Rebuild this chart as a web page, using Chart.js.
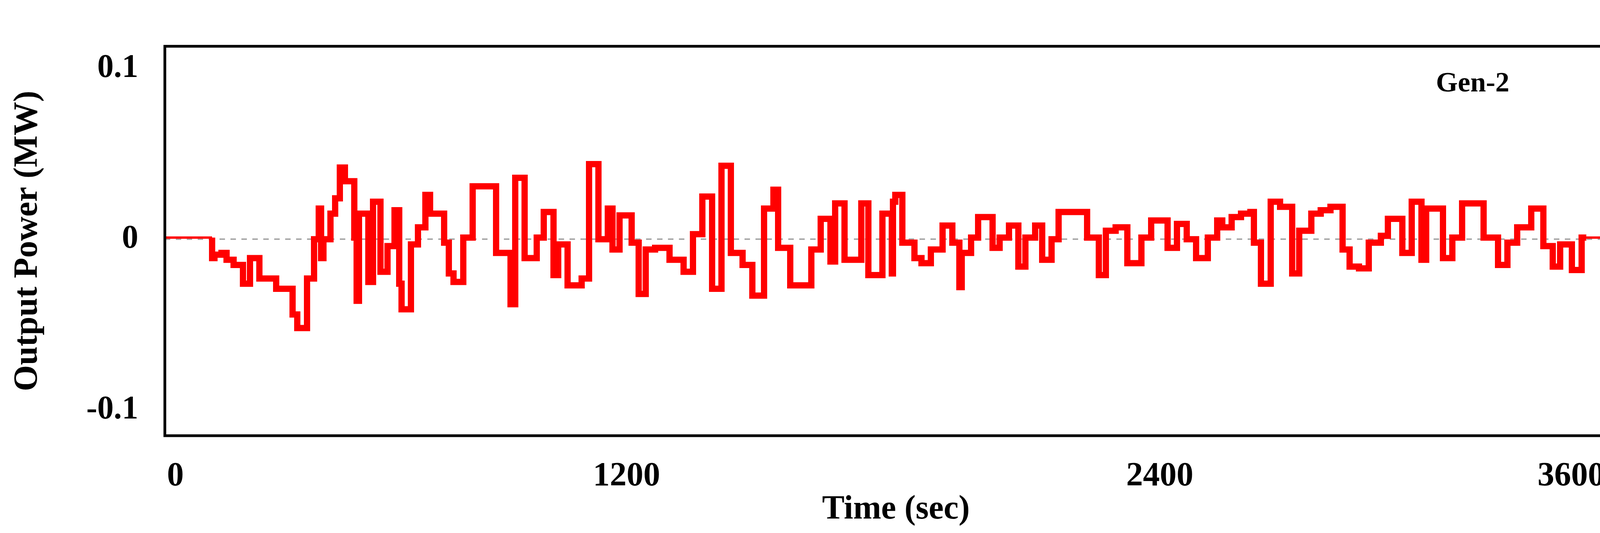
<!DOCTYPE html>
<html><head><meta charset="utf-8">
<script src="https://cdn.jsdelivr.net/npm/chart.js@4"></script>
<style>html,body{margin:0;padding:0;background:#fff;overflow:hidden}#wrap{position:relative;width:4213px;height:1364px}</style>
</head><body><div id="wrap"><canvas id="c"></canvas></div>
<script>
const times = [0,121,127,145,158,176,200,218,242,285,327,339,364,382,394,400,406,424,436,448,461,485,491,497,521,533,552,570,588,600,606,630,648,667,679,715,727,739,764,788,848,885,897,921,
952,970,995,1007,1031,1067,1086,1110,1134,1146,1164,1195,1213,1231,1255,1292,1328,1352,1376,1401,1425,1449,1479,1504,1534,1558,1570,1601,1655,1679,1704,1716,1740,1783,1801,1837,1861,
1864,1870,1888,1919,1937,1961,1991,2016,2034,2040,2064,2082,2119,2137,2161,2185,2203,2228,2246,2270,2288,2361,2391,2409,2434,2464,2500,2525,2567,2591,2616,2640,2670,2694,2707,2731,2755,2779,
2788,2806,2831,2855,2886,2904,2935,2959,2984,3015,3033,3057,3082,3113,3131,3168,3192,3217,3229,3272,3296,3321,3376,3413,3437,3462,3498,3529,3553,3572,3602,3627,3639,3743];
const powerMW = [0,0.001,-0.011,-0.009,-0.008,-0.012,-0.015,-0.026,-0.011,-0.023,-0.029,-0.044,-0.052,-0.023,0.0,0.018,-0.011,0.0,0.015,0.024,0.042,0.034,0.001,-0.036,0.015,-0.025,0.022,-0.019,-0.004,0.017,-0.026,-0.041,-0.003,0.007,0.026,0.015,-0.002,-0.020,-0.025,0.001,0.031,-0.008,-0.038,0.036,
-0.011,0.001,0.016,-0.021,-0.003,-0.027,-0.023,0.044,0.0,0.018,-0.006,0.014,-0.002,-0.032,-0.006,-0.005,-0.012,-0.019,0.003,0.025,-0.029,0.043,-0.008,-0.015,-0.033,0.018,0.029,-0.005,-0.027,-0.006,0.012,-0.013,0.021,-0.012,0.021,-0.021,0.015,
-0.020,0.022,0.026,-0.002,-0.011,-0.014,-0.006,0.008,-0.002,-0.028,-0.008,0.001,0.013,-0.005,0.001,0.008,-0.016,0.001,0.008,-0.012,0.0,0.016,0.001,-0.021,0.005,0.007,-0.014,0.001,0.011,-0.005,0.009,0.0,-0.011,0.001,0.011,0.007,0.013,0.015,
0.016,-0.002,-0.026,0.022,0.019,-0.020,0.005,0.015,0.017,0.019,-0.006,-0.016,-0.017,-0.002,0.002,0.012,-0.008,0.022,-0.012,0.018,-0.011,0.001,0.021,0.001,-0.015,-0.002,0.007,0.018,-0.004,-0.016,-0.003,-0.018,0.001,0.001];
const xTickPositions = [27,1182,2547,3600];
const xTickLabels = ['0','1200','2400','3600'];
const yTickValues = [-0.1,0,0.1];
const yTickLabels = ['-0.1','0','0.1'];

const serif = 'Liberation Serif, Times New Roman, serif';
const boxPlugin = {id:'box', afterDraw(ch){const a=ch.chartArea,c=ch.ctx;c.save();c.strokeStyle='#000';c.lineWidth=7;c.strokeRect(a.left,a.top,a.right-a.left,a.bottom-a.top);
c.fillStyle='#000';c.font='bold 72px '+serif;c.textAlign='center';c.textBaseline='middle';c.fillText('Gen-2',a.right-395,a.top+97);c.restore();}};
const n = times.length;
new Chart(document.getElementById('c'),{
 type:'line',
 data:{datasets:[{data:times.map((t,i)=>({x:t,y:powerMW[i]})),borderColor:'#ff0000',borderWidth:16,pointRadius:0,stepped:'after',borderJoinStyle:'miter',
   segment:{borderWidth:ctx=>(ctx.p0DataIndex===0||ctx.p0DataIndex>=n-2)?6:16}}]},
 options:{responsive:true,maintainAspectRatio:false,animation:false,devicePixelRatio:1,
  layout:{padding:{top:32,right:48,left:0,bottom:0}},
  plugins:{legend:{display:false},tooltip:{enabled:false}},
  scales:{
   x:{type:'linear',min:0,max:3743,afterFit:s=>{s.height=249;},
     afterBuildTicks:s=>{s.ticks=xTickPositions.map(v=>({value:v}));},
     ticks:{autoSkip:false,maxRotation:0,padding:45,color:'#000',font:{family:serif,size:86,weight:'bold'},callback:(v,i)=>xTickLabels[i]},
     grid:{display:false},border:{display:false},
     title:{display:true,text:'Time (sec)',color:'#000',font:{family:serif,size:86,weight:'bold'},padding:{top:0,bottom:8}}},
   y:{min:-0.115,max:0.113,afterFit:s=>{s.width=422;},
     afterBuildTicks:s=>{s.ticks=yTickValues.map(v=>({value:v}));},
     ticks:{autoSkip:false,padding:68,color:'#000',font:{family:serif,size:84,weight:'bold'},callback:(v,i)=>yTickLabels[i]},
     grid:{drawTicks:false,color:c=>c.tick&&c.tick.value===0?'#aaaaaa':'rgba(0,0,0,0)',lineWidth:4},border:{display:false,dash:[14,14]},
     title:{display:true,text:'Output Power (MW)',color:'#000',font:{family:serif,size:86,weight:'bold'},padding:{top:20,bottom:0}}}
  }},
 plugins:[boxPlugin]
});
</script></body></html>
